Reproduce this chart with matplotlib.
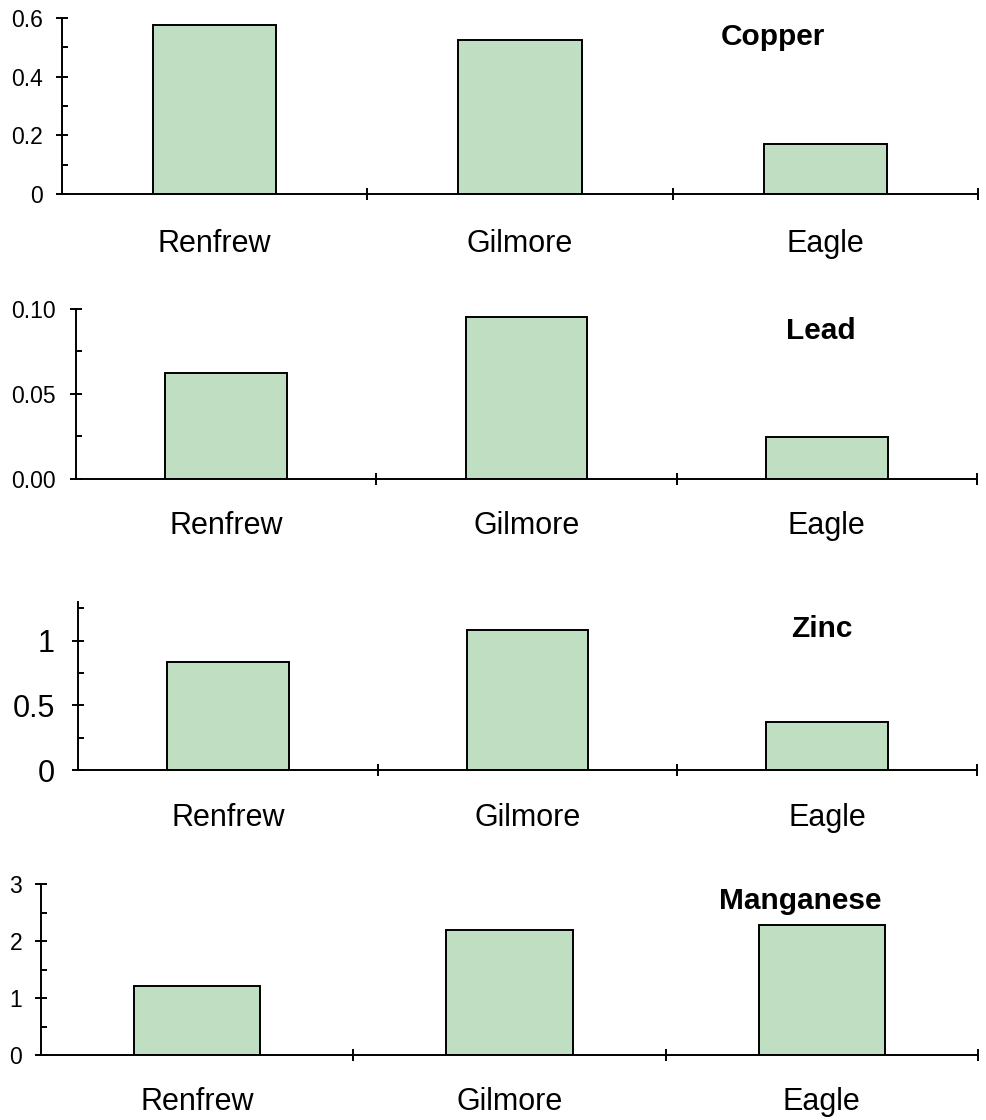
import matplotlib
matplotlib.use("Agg")
import matplotlib.pyplot as plt
from matplotlib.ticker import MultipleLocator, FixedLocator

plt.rcParams['font.family'] = ['Liberation Sans', 'DejaVu Sans']

categories = ['Renfrew', 'Gilmore', 'Eagle']
copper = [0.576, 0.525, 0.170]
lead = [0.0624, 0.0953, 0.0247]
zinc = [0.836, 1.086, 0.375]
manganese = [1.21, 2.19, 2.28]

titles = ['Copper', 'Lead', 'Zinc', 'Manganese']
series = [copper, lead, zinc, manganese]
ymaxes = [0.6, 0.10, 1.3, 3.0]
yticks = [[0, 0.2, 0.4, 0.6], [0, 0.05, 0.10], [0, 0.5, 1.0], [0, 1, 2, 3]]
yticklabels = [['0', '0.2', '0.4', '0.6'], ['0.00', '0.05', '0.10'],
               ['0', '0.5', '1'], ['0', '1', '2', '3']]
yminor = [0.1, 0.025, 0.25, 0.5]
ytick_sizes = [16.5, 16.5, 22, 16.5]
ytick_pads = [9, 10, 12, 9]

W, H = 987, 1120
fig = plt.figure(figsize=(W / 100, H / 100), dpi=100)

# axes boxes in pixel coordinates: left, right, bottom(y of 0), top(y of ymax)
boxes = [(62, 978, 194, 18), (76, 977, 479, 309), (78, 977, 770, 602), (41, 978, 1055, 884)]
title_pos = [(773, 37), (821, 331), (822, 629), (800, 901)]
label_pads = [25, 23, 24, 23]

bar_color = '#c0dfc2'

for i in range(4):
    l, r, b, t = boxes[i]
    ax = fig.add_axes([l / W, 1 - b / H, (r - l) / W, (b - t) / H])
    x = list(range(len(categories)))
    ax.bar(x, series[i], width=0.405, color=bar_color, edgecolor='black', linewidth=1.4, zorder=2)
    ax.set_xlim(-0.5, 2.5)
    ax.set_ylim(0, ymaxes[i])
    for s in ['top', 'right']:
        ax.spines[s].set_visible(False)
    for s in ['left', 'bottom']:
        ax.spines[s].set_linewidth(1.4)
        ax.spines[s].set_zorder(3)
    # x: boundary ticks (major) and category labels (minor)
    ax.xaxis.set_major_locator(FixedLocator([0.5, 1.5, 2.5]))
    ax.xaxis.set_major_formatter(plt.NullFormatter())
    ax.xaxis.set_minor_locator(FixedLocator(x))
    ax.set_xticklabels(categories, minor=True)
    ax.tick_params(axis='x', which='major', direction='inout', length=9, width=1.4)
    ax.tick_params(axis='x', which='minor', length=0, pad=label_pads[i], labelsize=22)
    # y ticks
    ax.set_yticks(yticks[i])
    ax.set_yticklabels(yticklabels[i])
    ax.yaxis.set_minor_locator(MultipleLocator(yminor[i]))
    ax.tick_params(axis='y', which='major', direction='inout', length=9, width=1.4,
                   labelsize=ytick_sizes[i], pad=ytick_pads[i])
    ax.tick_params(axis='y', which='minor', direction='in', length=4.5, width=1.4)
    tx, ty = title_pos[i]
    fig.text(tx / W, 1 - ty / H, titles[i], ha='center', va='center',
             fontsize=21.5, fontweight='bold')

fig.savefig('out.png', dpi=100)
